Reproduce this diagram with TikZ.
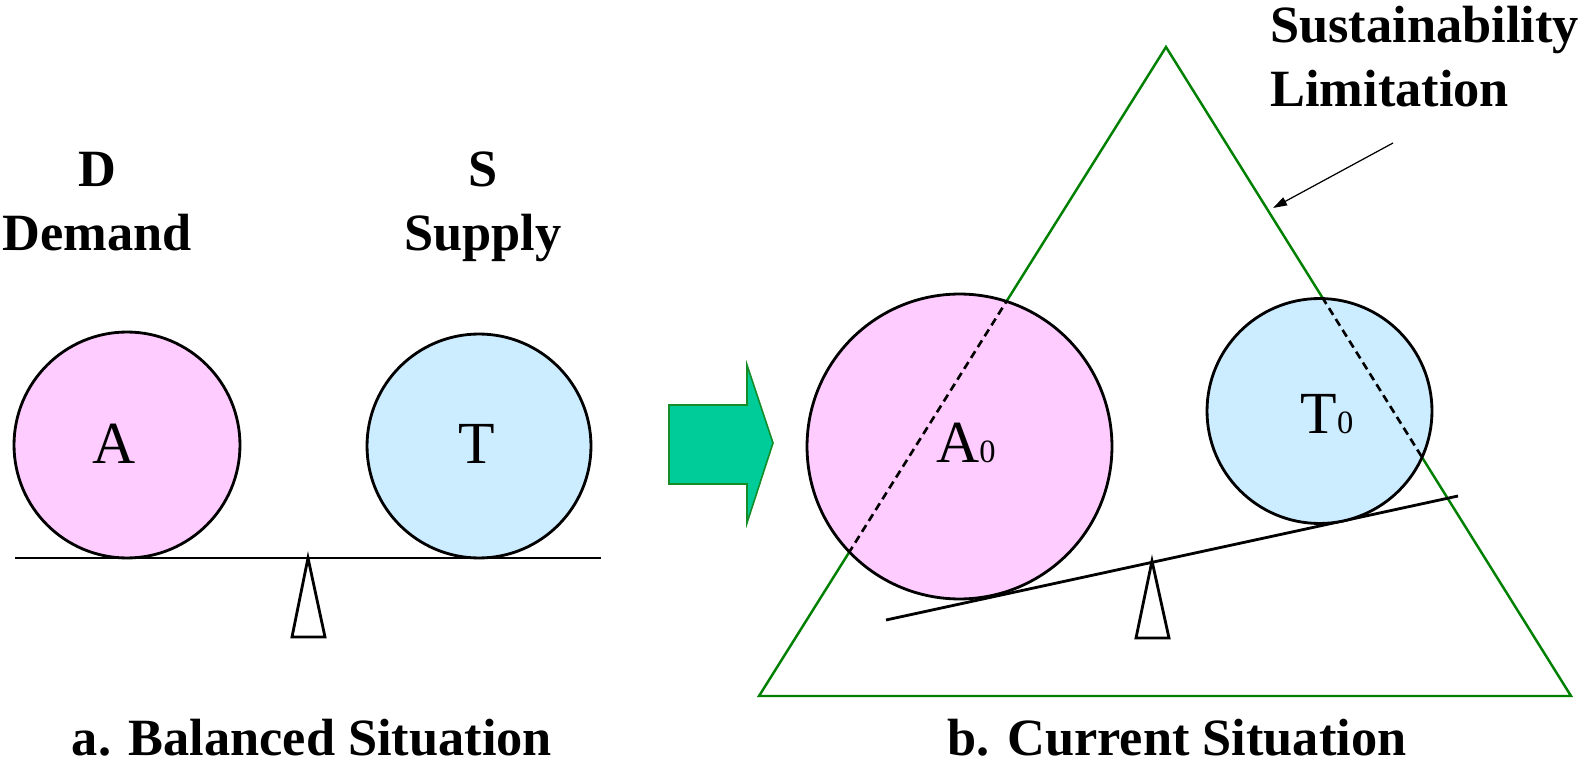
\documentclass[tikz,border=0pt]{standalone}
\usepackage{fontspec}
\setmainfont{Liberation Serif}
\usetikzlibrary{arrows.meta}

\definecolor{ballpink}{RGB}{255,204,255}
\definecolor{ballblue}{RGB}{204,236,255}
\definecolor{limitgreen}{RGB}{0,128,0}
\definecolor{arrowfill}{RGB}{0,204,153}
\definecolor{arrowedge}{RGB}{20,140,40}
\newcommand{\lowidx}[1]{{\fontsize{18.5}{20}\selectfont #1}}

\begin{document}
\begin{tikzpicture}[
        x=0.02cm,
        y=-0.02cm,
        ball/.style={circle, draw=black, line width=1.6pt, inner sep=0pt, outer sep=0pt},
        heading/.style={font=\fontsize{29.8}{36.5}\selectfont\bfseries, inner sep=0pt},
        letter/.style={font=\fontsize{34}{40}\selectfont, inner sep=0pt, anchor=base},
        beam/.style={line width=1.6pt},
        pivot/.style={line width=1.6pt, fill=white, line join=miter},
        limit/.style={limitgreen, line width=1.4pt},
        hidden/.style={line width=1.5pt, dash pattern=on 4.5pt off 2.8pt}
    ]
        \useasboundingbox (0,0) rectangle (1579,763);

        \coordinate (apex) at (1166,47);
        \coordinate (baseL) at (759,696);
        \coordinate (baseR) at (1571,696);
        \draw[limit] (apex) -- (baseL) -- (baseR) -- cycle;

        \node[heading, align=center, anchor=north] (demandlbl) at (97,152) {D\\Demand};
        \node[heading, align=center, anchor=north] (supplylbl) at (483,151) {S\\Supply};
        \node[heading, align=left, anchor=north west] (limitlbl) at (1270,6) {Sustainability\\Limitation};

        \coordinate (beamL1) at (15,558);
        \coordinate (beamL2) at (601,558);
        \draw[pivot] (308,558) -- (325,637) -- (292,637) -- cycle;
        \draw[beam] (beamL1) -- (beamL2);

        \coordinate (beamR1) at (886,620);
        \coordinate (beamR2) at (1458,496);
        \draw[pivot] (1152,561) -- (1169,638) -- (1136,638) -- cycle;
        \draw[beam] (beamR1) -- (beamR2);

        \node[ball, fill=ballpink, minimum size=4.52cm] (demandball) at (127,445) {};
        \node[ball, fill=ballblue, minimum size=4.48cm] (supplyball) at (479,446) {};
        \node[ball, fill=ballpink, minimum size=6.1cm] (demandnow) at (959.5,446.5) {};
        \node[ball, fill=ballblue, minimum size=4.5cm] (supplynow) at (1319.5,411) {};

        \begin{scope}
            \clip (demandnow.center) circle[radius=3.05cm];
            \draw[hidden] (apex) -- (baseL);
        \end{scope}
        \begin{scope}
            \clip (supplynow.center) circle[radius=2.25cm];
            \draw[hidden] (apex) -- (baseR);
        \end{scope}

        \node[letter] (demandtxt) at (114,463) {A};
        \node[letter] (supplytxt) at (477,463) {T};
        \node[letter] (demandnowtxt) at (966,462) {A\lowidx{0}};
        \node[letter] (supplynowtxt) at (1327,434) {T\lowidx{0}};

        \draw[arrowedge, fill=arrowfill, line width=0.9pt] (669,405) -- (747,405) -- (747,365)
            -- (773,443) -- (747,523) -- (747,484) -- (669,484) -- cycle;

        \coordinate (pointer) at (1393,143);
        \coordinate (edgehit) at (1273,208);
        \draw[-{Triangle[length=8pt,width=5pt]}, line width=0.7pt] (pointer) -- (edgehit);

        \node[heading, anchor=base] (captionA) at (312,755) {a. Balanced Situation};
        \node[heading, anchor=base] (captionB) at (1177,755) {b. Current Situation};
    \end{tikzpicture}
\end{document}
